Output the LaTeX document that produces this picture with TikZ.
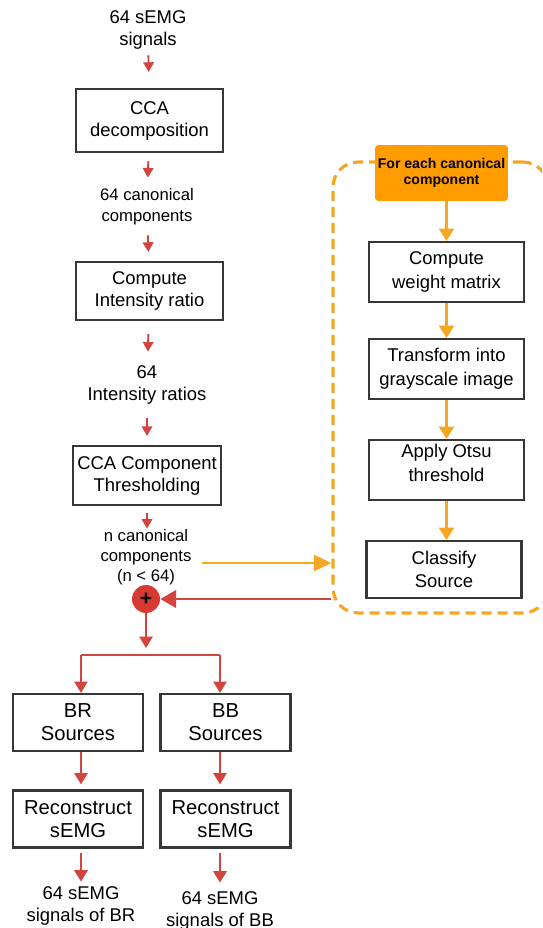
\documentclass[tikz,border=0pt]{standalone}
\usepackage{fontspec}
\setmainfont{Liberation Sans}
\usetikzlibrary{arrows.meta, positioning, calc}
\definecolor{flowred}{RGB}{210,68,62}
\definecolor{plusred}{RGB}{214,58,50}
\definecolor{loopor}{RGB}{246,166,32}
\definecolor{boxor}{RGB}{255,157,0}
\definecolor{boxline}{RGB}{55,55,55}

\begin{document}
\begin{tikzpicture}[
        x=0.02cm, y=-0.02cm,
        stepbox/.style={rectangle, draw=boxline, line width=1.2pt, align=center, inner sep=1pt, font=\fontsize{10.5}{12.5}\selectfont},
        sidebox/.style={stepbox, minimum width=3.1cm, minimum height=1.2cm, font=\fontsize{10.5}{13.5}\selectfont},
        outbox/.style={stepbox, minimum width=2.6cm, minimum height=1.14cm, font=\fontsize{11.5}{13}\selectfont},
        txt/.style={align=center, inner sep=0pt, font=\fontsize{10.5}{12.5}\selectfont},
        redarr/.style={-{Triangle[width=6pt,length=5.5pt]}, draw=flowred, line width=1.1pt},
        bigred/.style={-{Triangle[width=7.5pt,length=6.5pt]}, draw=flowred, line width=1.3pt},
        orarr/.style={-{Triangle[width=8.5pt,length=7pt]}, draw=loopor, line width=1.5pt}
    ]
        \useasboundingbox (0,0) rectangle (542,928);
        \clip (0,0) rectangle (542,928);
        % left column
        \node[txt, minimum height=1cm] (input) at (148,30) {64 sEMG\\signals};
        \node[stepbox, minimum width=2.94cm, minimum height=1.26cm] (cca) at (149.5,120.5) {CCA\\decomposition};
        \node[txt, minimum height=1.14cm, font=\fontsize{9.5}{12}\selectfont] (comps) at (147,206.5) {64 canonical\\components};
        \node[stepbox, minimum width=2.94cm, minimum height=1.16cm] (ratio) at (149.5,291) {Compute\\Intensity ratio};
        \node[txt, minimum height=1.32cm] (ratios) at (147,385) {64\\Intensity ratios};
        \node[stepbox, minimum width=2.96cm, minimum height=1.18cm] (thresh) at (147,475.5) {CCA Component\\Thresholding};
        \node[txt, minimum height=1.08cm, font=\fontsize{9.5}{11.5}\selectfont] (ncomps) at (146,557) {n canonical\\components\\(n < 64)};
        \node[circle, fill=plusred, minimum size=0.56cm, inner sep=0pt, font=\large\bfseries] (plus) at (146,599) {+};
        \coordinate (fork) at (146,655);
        % two branches
        \node[outbox] (brsrc) at (78,722.5) {BR\\Sources};
        \node[outbox] (bbsrc) at (225.5,722.5) {BB\\Sources};
        \node[outbox] (brrec) at (78,819) {Reconstruct\\sEMG};
        \node[outbox] (bbrec) at (225.5,819) {Reconstruct\\sEMG};
        \node[txt, minimum height=0.96cm] (brout) at (81,906) {64 sEMG\\signals of BR};
        \node[txt, minimum height=1.12cm] (bbout) at (220,911) {64 sEMG\\signals of BB};
        % loop over components
        \node[draw=loopor, line width=1.8pt, dash pattern=on 0.2cm off 0.12cm, rounded corners=0.5cm, minimum width=4.3cm, minimum height=9.02cm] (loop) at (440.5,387.5) {};
        \node[fill=boxor, rounded corners=2pt, minimum width=2.66cm, minimum height=1.12cm, align=center, inner sep=1pt, font=\fontsize{8}{9.5}\selectfont\bfseries] (foreach) at (441.5,173) {For each canonical\\component};
        \node[sidebox] (weight) at (446.5,272) {Compute\\weight matrix};
        \node[sidebox] (gray) at (446.5,369) {Transform into\\grayscale image};
        \node[sidebox, text depth=0.28cm] (otsu) at (446.5,470) {Apply Otsu\\threshold};
        \node[sidebox, minimum height=1.14cm] (classify) at (444,569.5) {Classify\\Source};

        \draw[redarr, shorten >=0.32cm] (input) -- (cca);
        \draw[redarr, shorten <=0.16cm] (cca) -- (comps);
        \draw[redarr, shorten >=0.18cm] (comps) -- (ratio);
        \draw[redarr, shorten <=0.26cm] (ratio) -- (ratios);
        \draw[redarr, shorten >=0.18cm] (ratios) -- (thresh);
        \draw[redarr, shorten <=0.14cm] (thresh.south) -- (thresh.south |- ncomps.north);
        \draw[bigred, shorten >=0.14cm] (plus) -- (fork);
        \draw[flowred, line width=1.3pt] (fork -| brout) -- (fork -| bbout);
        \draw[bigred] (fork -| brout) -- (brsrc.north -| brout);
        \draw[bigred] (fork -| bbout) -- (bbsrc.north -| bbout);
        \draw[bigred, shorten >=0.1cm] (brsrc.south -| brout) -- (brrec.north -| brout);
        \draw[bigred, shorten >=0.1cm] (bbsrc.south -| bbout) -- (bbrec.north -| bbout);
        \draw[bigred, shorten <=0.08cm] (brrec.south -| brout) -- (brout);
        \draw[bigred, shorten <=0.08cm] (bbrec.south -| bbout) -- (bbout);

        \draw[orarr] (foreach.south -| weight) -- (weight);
        \draw[orarr] (weight) -- (gray);
        \draw[orarr] (gray) -- (otsu);
        \draw[orarr] (otsu) -- (classify.north -| otsu);
        \draw[-{Triangle[width=9pt,length=10pt]}, draw=loopor, line width=1.7pt, shorten <=0.2cm] ([yshift=-0.12cm]ncomps.east) -- ([yshift=-0.12cm]ncomps.east -| loop.west);
        \draw[-{Triangle[width=10pt,length=9pt]}, draw=flowred, line width=1.4pt] (plus.east -| loop.west) -- (plus.east);
    \end{tikzpicture}
\end{document}
